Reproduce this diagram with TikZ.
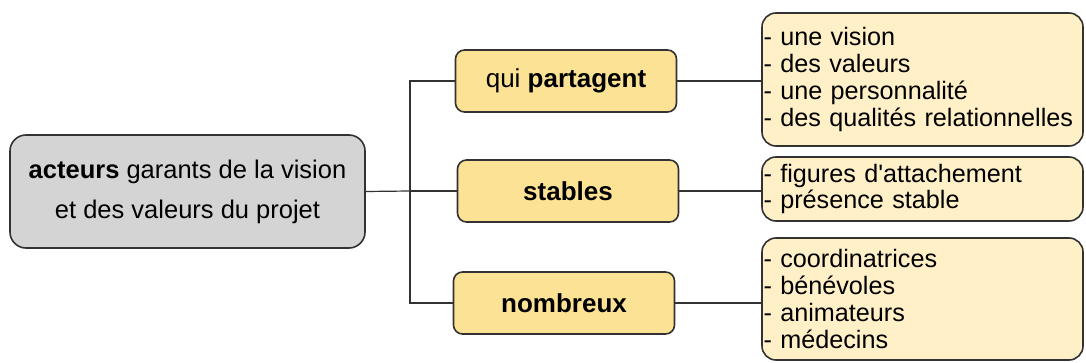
\documentclass[tikz,border=0pt]{standalone}
\usepackage{fontspec}
\setmainfont{Liberation Sans}
\usepackage{xcolor}
\usepackage{tikz}
\usetikzlibrary{positioning,calc}

\definecolor{rootgray}{RGB}{212,212,212}
\definecolor{midgold}{RGB}{252,226,148}
\definecolor{leafcream}{RGB}{255,240,200}
\definecolor{edgegray}{RGB}{50,50,50}

\begin{document}
\begin{tikzpicture}[x=1pt, y=1pt,
  root/.style={rectangle, draw=edgegray, line width=1.6pt, rounded corners=16pt,
               fill=rootgray, minimum width=355pt, minimum height=113pt,
               align=center, font=\fontsize{25.5}{40}\selectfont},
  mid/.style={rectangle, draw=edgegray, line width=1.6pt, rounded corners=9pt,
              fill=midgold, minimum width=221pt, minimum height=62pt,
              align=center, font=\fontsize{26}{30}\selectfont},
  leaf/.style={rectangle, draw=edgegray, line width=1.6pt, rounded corners=14pt,
               fill=leafcream, text width=318pt, inner xsep=1.5pt, inner ysep=0pt,
               align=left, font=\fontsize{25.2}{26.7}\selectfont},
  link/.style={draw=edgegray, line width=1.2pt}
]
\useasboundingbox (0,0) rectangle (1086,-363);

\node[root] (actors) at (187.5,-191.5) {\textbf{acteurs} garants de la vision\\et des valeurs du projet};

\node[mid] (share)  at (566,-81)  {qui \textbf{partagent}};
\node[mid] (stable) at (568,-191) {\textbf{stables}};
\node[mid] (many)   at (564,-303) {\textbf{nombreux}};

\node[leaf, minimum height=133pt] (shareList) at (922.5,-79.5) {%
  - une vision\\
  - des valeurs\\
  - une personnalité\\
  - des qualités relationnelles};
\node[leaf, minimum height=64pt] (stableList) at (922.5,-189) {%
  - figures d\textquotesingle attachement\\
  - présence stable};
\node[leaf, minimum height=122pt] (manyList) at (922.5,-299) {%
  - coordinatrices\\
  - bénévoles\\
  - animateurs\\
  - médecins};

% branches
\coordinate (trunk) at (410,-191);
\draw[link] (actors.east) -- (trunk);
\draw[link] (trunk) |- (share.west);
\draw[link] (trunk) -- (stable.west);
\draw[link] (trunk) |- (many.west);

\draw[link] (share.east)  -- (share.east -| shareList.west);
\draw[link] (stable.east) -- (stable.east -| stableList.west);
\draw[link] (many.east)   -- (many.east -| manyList.west);
\end{tikzpicture}
\end{document}
